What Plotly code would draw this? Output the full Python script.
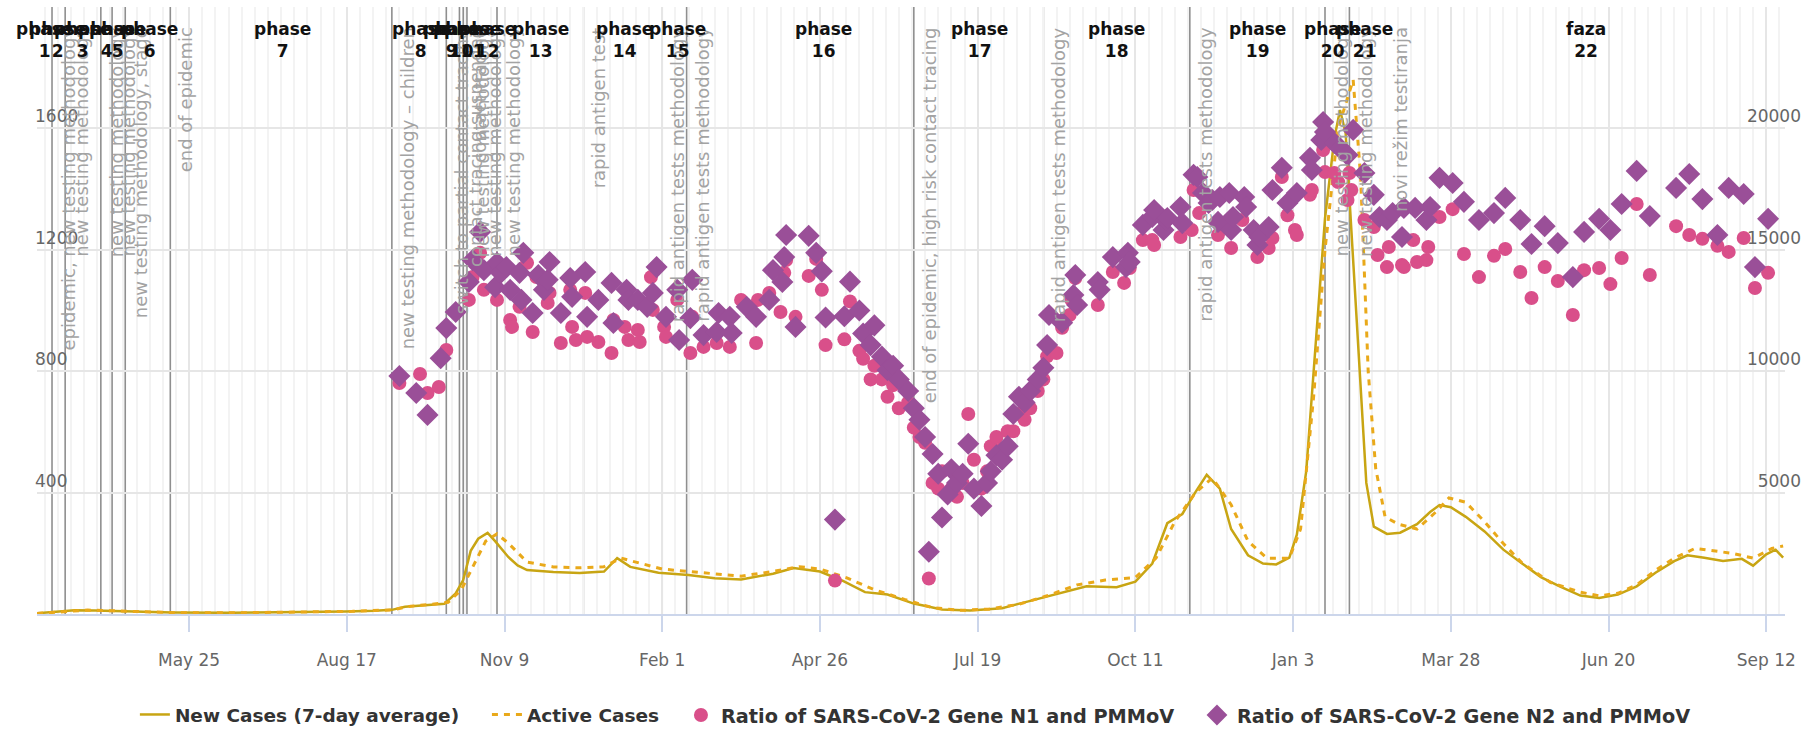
import plotly.graph_objects as go

# ---------------- data ----------------
cases_dates = ["2020-03-05","2020-03-15","2020-03-25","2020-04-05","2020-04-15","2020-05-01","2020-05-16","2020-06-15","2020-07-17","2020-08-16","2020-09-01","2020-09-10","2020-09-17","2020-09-25","2020-10-01","2020-10-08","2020-10-14","2020-10-18","2020-10-22","2020-10-26","2020-10-31","2020-11-04","2020-11-11","2020-11-16","2020-11-21","2020-12-05","2020-12-19","2021-01-01","2021-01-08","2021-01-15","2021-01-30","2021-02-15","2021-03-01","2021-03-15","2021-04-01","2021-04-12","2021-04-26","2021-05-08","2021-05-20","2021-06-01","2021-06-15","2021-06-30","2021-07-15","2021-08-01","2021-08-15","2021-09-01","2021-09-15","2021-10-01","2021-10-11","2021-10-20","2021-10-28","2021-11-05","2021-11-12","2021-11-18","2021-11-25","2021-12-01","2021-12-10","2021-12-18","2021-12-25","2022-01-01","2022-01-05","2022-01-10","2022-01-15","2022-01-20","2022-01-25","2022-01-28","2022-01-31","2022-02-03","2022-02-07","2022-02-11","2022-02-15","2022-02-22","2022-03-01","2022-03-10","2022-03-17","2022-03-22","2022-03-28","2022-04-05","2022-04-15","2022-04-25","2022-05-05","2022-05-15","2022-05-25","2022-06-05","2022-06-15","2022-06-25","2022-07-05","2022-07-15","2022-07-25","2022-08-01","2022-08-10","2022-08-20","2022-08-30","2022-09-05","2022-09-12","2022-09-17","2022-09-21"]
cases_values = [30,100,150,140,120,80,60,50,70,100,130,170,300,350,380,420,850,1400,2600,3100,3340,3000,2350,2000,1810,1730,1690,1750,2300,1940,1700,1610,1470,1420,1660,1890,1750,1370,900,800,430,190,140,240,520,850,1140,1100,1330,2080,3740,4120,5020,5730,5160,3500,2420,2080,2040,2320,3270,5870,11080,16290,19600,20760,19800,15800,10600,5400,3600,3300,3350,3700,4200,4490,4400,4000,3400,2650,2080,1520,1140,760,660,800,1140,1700,2180,2420,2320,2180,2270,1990,2460,2650,2320]

active_dates = ["2020-03-05","2020-03-20","2020-04-01","2020-04-15","2020-05-01","2020-05-20","2020-06-20","2020-07-20","2020-08-20","2020-09-10","2020-09-20","2020-10-01","2020-10-10","2020-10-17","2020-10-24","2020-10-30","2020-11-05","2020-11-11","2020-11-21","2020-12-05","2020-12-19","2021-01-01","2021-01-10","2021-01-20","2021-02-01","2021-02-15","2021-03-01","2021-03-15","2021-04-01","2021-04-15","2021-04-26","2021-05-10","2021-05-25","2021-06-10","2021-06-25","2021-07-10","2021-07-25","2021-08-10","2021-08-25","2021-09-10","2021-09-25","2021-10-11","2021-10-22","2021-11-01","2021-11-12","2021-11-21","2021-12-01","2021-12-10","2021-12-20","2022-01-01","2022-01-07","2022-01-14","2022-01-20","2022-01-27","2022-02-04","2022-02-08","2022-02-12","2022-02-16","2022-02-21","2022-02-28","2022-03-10","2022-03-20","2022-03-27","2022-04-05","2022-04-15","2022-04-25","2022-05-05","2022-05-20","2022-06-05","2022-06-15","2022-06-25","2022-07-05","2022-07-15","2022-07-25","2022-08-05","2022-08-15","2022-08-25","2022-09-05","2022-09-15","2022-09-21"]
active_values = [20,90,160,130,80,50,50,70,110,170,320,400,480,1000,2100,3000,3300,2920,2140,1940,1900,1950,2300,2100,1850,1750,1650,1560,1750,1950,1850,1500,1000,600,260,150,200,400,750,1200,1400,1500,2300,3800,5000,5600,4500,3000,2300,2300,3500,9000,15000,20000,22000,18000,10000,6000,4000,3700,3500,4200,4780,4600,3800,2900,2100,1300,900,750,850,1200,1800,2300,2700,2600,2500,2300,2700,2800]

n1_dates = ["2020-09-14","2020-09-25","2020-09-29","2020-10-05","2020-10-09","2020-10-21","2020-10-23","2020-10-27","2020-10-29","2020-11-05","2020-11-12","2020-11-13","2020-11-17","2020-11-21","2020-11-24","2020-11-26","2020-12-02","2020-12-03","2020-12-09","2020-12-14","2020-12-15","2020-12-17","2020-12-22","2020-12-23","2020-12-29","2021-01-05","2021-01-06","2021-01-12","2021-01-14","2021-01-19","2021-01-20","2021-01-26","2021-01-27","2021-02-02","2021-02-03","2021-02-09","2021-02-10","2021-02-16","2021-02-17","2021-02-23","2021-03-02","2021-03-09","2021-03-15","2021-03-23","2021-03-24","2021-03-30","2021-04-05","2021-04-07","2021-04-08","2021-04-13","2021-04-20","2021-04-24","2021-04-27","2021-04-29","2021-05-04","2021-05-09","2021-05-12","2021-05-17","2021-05-19","2021-05-23","2021-05-25","2021-05-29","2021-06-01","2021-06-04","2021-06-07","2021-06-12","2021-06-15","2021-06-18","2021-06-21","2021-06-23","2021-06-25","2021-06-28","2021-06-30","2021-07-03","2021-07-05","2021-07-08","2021-07-11","2021-07-14","2021-07-17","2021-07-21","2021-07-24","2021-07-26","2021-07-29","2021-08-01","2021-08-04","2021-08-07","2021-08-10","2021-08-13","2021-08-16","2021-08-20","2021-08-23","2021-08-25","2021-08-30","2021-09-02","2021-09-06","2021-09-07","2021-09-09","2021-09-21","2021-09-29","2021-10-05","2021-10-08","2021-10-15","2021-10-20","2021-10-21","2021-10-26","2021-11-04","2021-11-10","2021-11-11","2021-11-14","2021-11-24","2021-11-30","2021-12-01","2021-12-07","2021-12-15","2021-12-21","2021-12-23","2021-12-28","2021-12-31","2022-01-04","2022-01-05","2022-01-12","2022-01-13","2022-01-19","2022-01-20","2022-01-25","2022-01-27","2022-02-01","2022-02-02","2022-02-03","2022-02-10","2022-02-15","2022-02-17","2022-02-22","2022-02-23","2022-03-02","2022-03-03","2022-03-08","2022-03-10","2022-03-15","2022-03-16","2022-03-22","2022-03-29","2022-04-04","2022-04-12","2022-04-20","2022-04-26","2022-05-04","2022-05-10","2022-05-17","2022-05-24","2022-06-01","2022-06-07","2022-06-15","2022-06-21","2022-06-27","2022-07-05","2022-07-12","2022-07-26","2022-08-02","2022-08-09","2022-08-17","2022-08-23","2022-08-31","2022-09-06","2022-09-13"]
n1_values = [761,791,728,748,870,1035,1110,1190,1068,1035,969,946,1012,1157,929,1110,1025,1058,893,1068,946,903,1058,913,896,860,969,946,903,936,896,1110,1002,946,913,1035,903,860,979,880,893,880,1035,893,1035,1058,995,1124,1166,979,1114,1170,1068,886,110,905,1030,867,841,773,818,773,716,754,678,697,614,583,564,117,432,413,470,394,413,386,432,659,508,413,470,553,583,545,602,602,659,640,678,735,773,849,860,943,985,1035,1107,1018,1127,1091,1140,1232,1232,1216,1265,1242,1265,1397,1321,1249,1298,1206,1298,1176,1206,1239,1440,1314,1265,1249,1381,1397,1529,1456,1453,1423,1364,1453,1397,1298,1275,1183,1143,1209,1150,1143,1232,1160,1166,1209,1308,1334,1186,1110,1180,1203,1127,1041,1143,1097,985,1133,1140,1087,1173,1351,1117,1278,1249,1236,1213,1193,1239,1074,1124]

n2_dates = ["2020-09-14","2020-09-23","2020-09-29","2020-10-06","2020-10-09","2020-10-14","2020-10-21","2020-10-23","2020-10-27","2020-10-29","2020-11-04","2020-11-05","2020-11-07","2020-11-10","2020-11-12","2020-11-17","2020-11-18","2020-11-19","2020-11-24","2020-11-27","2020-11-30","2020-12-02","2020-12-03","2020-12-09","2020-12-14","2020-12-15","2020-12-22","2020-12-23","2020-12-29","2021-01-05","2021-01-06","2021-01-13","2021-01-14","2021-01-19","2021-01-24","2021-01-27","2021-01-29","2021-02-03","2021-02-09","2021-02-10","2021-02-16","2021-02-17","2021-02-23","2021-03-02","2021-03-03","2021-03-09","2021-03-10","2021-03-18","2021-03-23","2021-03-30","2021-04-01","2021-04-06","2021-04-07","2021-04-08","2021-04-13","2021-04-20","2021-04-24","2021-04-27","2021-04-29","2021-05-04","2021-05-09","2021-05-12","2021-05-17","2021-05-19","2021-05-23","2021-05-25","2021-05-29","2021-06-01","2021-06-04","2021-06-07","2021-06-12","2021-06-15","2021-06-18","2021-06-21","2021-06-23","2021-06-25","2021-06-28","2021-06-30","2021-07-03","2021-07-05","2021-07-08","2021-07-11","2021-07-14","2021-07-17","2021-07-21","2021-07-24","2021-07-26","2021-07-29","2021-08-01","2021-08-04","2021-08-07","2021-08-10","2021-08-13","2021-08-16","2021-08-20","2021-08-23","2021-08-25","2021-08-26","2021-09-02","2021-09-08","2021-09-09","2021-09-10","2021-09-21","2021-09-22","2021-09-29","2021-10-06","2021-10-07","2021-10-08","2021-10-15","2021-10-20","2021-10-21","2021-10-26","2021-10-27","2021-10-28","2021-11-04","2021-11-05","2021-11-11","2021-11-13","2021-11-16","2021-11-19","2021-11-21","2021-11-24","2021-11-25","2021-11-30","2021-12-01","2021-12-02","2021-12-08","2021-12-09","2021-12-13","2021-12-15","2021-12-16","2021-12-21","2021-12-23","2021-12-28","2021-12-31","2022-01-05","2022-01-12","2022-01-13","2022-01-18","2022-01-19","2022-01-20","2022-01-25","2022-01-28","2022-02-01","2022-02-04","2022-02-10","2022-02-15","2022-02-18","2022-02-22","2022-02-25","2022-03-02","2022-03-03","2022-03-09","2022-03-15","2022-03-17","2022-03-22","2022-03-29","2022-04-04","2022-04-12","2022-04-20","2022-04-26","2022-05-04","2022-05-10","2022-05-17","2022-05-24","2022-06-01","2022-06-07","2022-06-15","2022-06-21","2022-06-27","2022-07-05","2022-07-12","2022-07-26","2022-08-02","2022-08-09","2022-08-17","2022-08-23","2022-08-31","2022-09-06","2022-09-13"]
n2_values = [784,728,656,843,942,995,1094,1166,1259,1133,1077,1157,1124,1143,1068,1124,1035,1190,992,1117,1068,1101,1160,992,1107,1045,1127,979,1035,1091,959,1068,1035,1035,1012,1058,1143,979,1068,903,975,1101,919,929,992,979,926,1012,979,1035,1133,1094,1176,1249,946,1246,1190,1129,977,311,981,1095,1000,924,886,951,848,803,818,773,735,678,640,583,205,527,462,318,394,477,432,462,561,413,356,432,470,523,508,553,659,716,697,735,773,811,886,985,960,1051,1117,1018,1094,1068,1176,1143,1190,1160,1282,1308,1331,1265,1298,1305,1341,1288,1447,1440,1387,1354,1364,1292,1374,1387,1265,1308,1374,1341,1265,1216,1242,1275,1397,1470,1354,1387,1503,1463,1562,1621,1588,1552,1535,1512,1595,1453,1381,1308,1298,1321,1242,1338,1338,1298,1341,1437,1420,1358,1298,1321,1371,1298,1219,1278,1222,1110,1259,1302,1265,1351,1460,1311,1404,1450,1367,1249,1404,1384,1143,1302]

event_dates = ["2020-03-13","2020-03-20","2020-04-08","2020-04-14","2020-04-21","2020-05-15","2020-09-10","2020-10-09","2020-10-16","2020-10-18","2020-10-20","2020-10-26","2020-11-05","2020-12-21","2021-02-01","2021-02-14","2021-06-15","2021-08-23","2021-11-09","2022-01-20","2022-02-02","2022-02-21"]
event_labels = ["epidemic, new testing methodology","new testing methodology","new testing methodology","new testing methodology","new testing methodology, stage","end of epidemic","new testing methodology – children","switch to partial contact tracing","contact tracing suspended","contact tracing","new testing methodology","new testing methodology","new testing methodology","rapid antigen test","rapid antigen tests methodology","rapid antigen tests methodology","end of epidemic, high risk contact tracing","rapid antigen tests methodology","rapid antigen tests methodology","new testing methodology","new testing methodology","novi režim testiranja"]

phase_dates = ["2020-03-09","2020-03-16","2020-03-29","2020-04-11","2020-04-17","2020-05-04","2020-07-14","2020-09-25","2020-10-12","2020-10-17","2020-10-23","2020-10-31","2020-11-28","2021-01-12","2021-02-09","2021-04-28","2021-07-20","2021-10-01","2021-12-15","2022-01-24","2022-02-10","2022-06-08"]
phase_words = ["phase"] * 21 + ["faza"]
phase_numbers = [str(i) for i in range(1, 23)]

tick_start = "2020-05-25"
x_range = ["2020-03-05", "2022-09-22"]

# ---------------- figure ----------------
FONT = "DejaVu Sans"
DAY = 86400000

fig = go.Figure()
fig.add_trace(go.Scatter(x=cases_dates, y=cases_values, name="New Cases (7-day average)",
                         mode="lines", line=dict(color="#c8a513", width=2.5), yaxis="y", legend="legend"))
fig.add_trace(go.Scatter(x=active_dates, y=active_values, name="Active Cases",
                         mode="lines", line=dict(color="#e9a91a", width=3, dash="6px,6px"), yaxis="y", legend="legend2"))
fig.add_trace(go.Scatter(x=n1_dates, y=n1_values, name="Ratio of SARS-CoV-2 Gene N1 and PMMoV",
                         mode="markers", marker=dict(symbol="circle", size=14, color="#d94f8a"), yaxis="y2", legend="legend3"))
fig.add_trace(go.Scatter(x=n2_dates, y=n2_values, name="Ratio of SARS-CoV-2 Gene N2 and PMMoV",
                         mode="markers", marker=dict(symbol="diamond", size=17, color="#9a4f98"), yaxis="y2", legend="legend4"))

shapes = []
for d in event_dates:
    shapes.append(dict(type="line", xref="x", yref="paper", x0=d, x1=d, y0=0, y1=1,
                       line=dict(color="#8f8f8f", width=1.6), layer="between"))

annotations = []
for d, t in zip(event_dates, event_labels):
    annotations.append(dict(x=d, y=1, xref="x", yref="paper", text=t, showarrow=False,
                            textangle=-90, xanchor="left", yanchor="top", xshift=3, yshift=-18,
                            font=dict(family=FONT, size=18, color="#a3a3a3")))
for d, w, n in zip(phase_dates, phase_words, phase_numbers):
    annotations.append(dict(x=d, y=1, xref="x", yref="paper", text=f"{w}<br>{n}", showarrow=False,
                            xanchor="center", yanchor="top", yshift=-10, align="center",
                            font=dict(family=FONT, size=17, color="#111111", weight="bold")))

legend_common = dict(orientation="h", y=-0.135, yanchor="top", xanchor="left",
                     itemwidth=30, bgcolor="rgba(0,0,0,0)")
font_a = dict(family=FONT, size=18.5, color="#333333", weight="bold")
font_b = dict(family=FONT, size=19.3, color="#333333", weight="bold")

fig.update_layout(
    width=1803, height=730,
    margin=dict(l=37, r=18, t=7, b=116, autoexpand=False),
    paper_bgcolor="white", plot_bgcolor="white",
    font=dict(family=FONT, color="#666666"),
    shapes=shapes, annotations=annotations,
    showlegend=True,
    legend=dict(x=0.056, font=font_a, **legend_common),
    legend2=dict(x=0.2574, font=font_a, **legend_common),
    legend3=dict(x=0.3684, font=font_b, **legend_common),
    legend4=dict(x=0.6636, font=font_b, **legend_common),
    xaxis=dict(type="date", range=x_range, tick0=tick_start, dtick=84 * DAY, automargin=False,
               tickformat="%b %-d", tickfont=dict(size=17, color="#666666"),
               ticks="outside", ticklen=16, tickcolor="#ccd6eb", tickwidth=1.5,
               ticklabelstandoff=14, ticklabeloverflow="allow",
               showline=True, linecolor="#ccd6eb", linewidth=2,
               showgrid=True, gridcolor="#e6e6e6", gridwidth=1.5, zeroline=False,
               minor=dict(dtick=7 * DAY, tick0=tick_start, showgrid=True,
                          gridcolor="#f3f3f3", gridwidth=2, ticks="")),
    yaxis=dict(side="right", range=[0, 25000], tickvals=[0, 5000, 10000, 15000, 20000, 25000],
               ticktext=["", "5000", "10000", "15000", "20000", ""], automargin=False,
               ticklabelposition="inside top", ticklabelstandoff=-19, ticklabeloverflow="allow",
               tickfont=dict(size=17, color="#666666"),
               showgrid=True, gridcolor="#e6e6e6", gridwidth=1.5, zeroline=False, showline=False),
    yaxis2=dict(side="left", overlaying="y", range=[0, 2000], tickvals=[0, 400, 800, 1200, 1600, 2000],
                ticktext=["", "400", "800", "1200", "1600", ""], automargin=False,
                ticklabelposition="inside top", ticklabelstandoff=-5, ticklabeloverflow="allow",
                tickfont=dict(size=17, color="#666666"),
                showgrid=False, zeroline=False, showline=False),
)

fig.write_html("out.html", config={"displayModeBar": False},
               post_script="document.body.style.margin='0px';document.body.style.overflow='hidden';")
